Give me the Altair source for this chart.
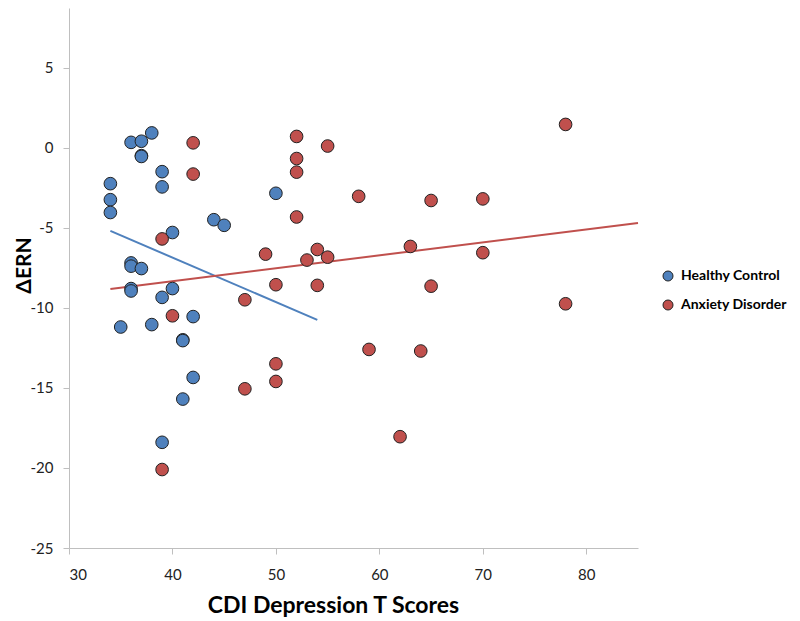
import altair as alt
import pandas as pd

# Healthy Control points
hc_x = [36, 37, 38, 37, 37, 39, 39, 34, 34, 34, 44, 45, 40, 36, 36, 37, 36, 36, 40, 39,
        42, 35, 38, 41, 41, 42, 41, 39, 50]
hc_y = [0.33, 0.4, 0.92, -0.5, -0.55, -1.5, -2.45, -2.25, -3.25, -4.05, -4.5, -4.85, -5.3,
        -7.2, -7.4, -7.55, -8.8, -8.95, -8.8, -9.35, -10.55, -11.2, -11.05, -12.0, -12.05,
        -14.35, -15.7, -18.4, -2.85]

# Anxiety Disorder points
ad_x = [42, 42, 39, 40, 39, 52, 55, 52, 52, 58, 52, 54, 49, 53, 55, 50, 54, 47, 63, 70,
        65, 70, 65, 78, 78, 47, 50, 50, 59, 64, 62]
ad_y = [0.3, -1.65, -5.7, -10.5, -20.1, 0.7, 0.1, -0.68, -1.53, -3.04, -4.33, -6.36, -6.65,
        -7.02, -6.84, -8.56, -8.6, -9.5, -6.17, -6.56, -3.3, -3.2, -8.65, 1.45, -9.75,
        -15.06, -13.5, -14.6, -12.6, -12.7, -18.05]

# Trend line endpoints
hc_trend_x = [34, 54]
hc_trend_y = [-5.2, -10.75]
ad_trend_x = [34, 85]
ad_trend_y = [-8.82, -4.71]

groups = ["Healthy Control", "Anxiety Disorder"]
colors = ["#4F81BD", "#C0504D"]

pts = pd.concat([
    pd.DataFrame({"x": hc_x, "y": hc_y, "group": groups[0], "order": 0}),
    pd.DataFrame({"x": ad_x, "y": ad_y, "group": groups[1], "order": 1}),
], ignore_index=True)

trend = pd.concat([
    pd.DataFrame({"x": hc_trend_x, "y": hc_trend_y, "group": groups[0]}),
    pd.DataFrame({"x": ad_trend_x, "y": ad_trend_y, "group": groups[1]}),
], ignore_index=True)

FONT = "Lato"

xscale = alt.Scale(domain=[30, 85], nice=False, zero=False)
yscale = alt.Scale(domain=[-25, 8.72], nice=False, zero=False)

xaxis = alt.Axis(
    title="CDI Depression T Scores", values=[30, 40, 50, 60, 70, 80], grid=False,
    domainColor="#bfbfbf", tickColor="#bfbfbf", tickSize=6, labelFontSize=15,
    labelColor="#222", labelFont=FONT, labelPadding=13, labelExpr="datum.value + ''",
    titleFont=FONT, titleFontSize=23, titleFontWeight="bold", titleColor="#000",
    titleX=264, titleY=64, titleAnchor="middle", titleBaseline="alphabetic",
)
yaxis = alt.Axis(
    title="ΔERN", values=[-25, -20, -15, -10, -5, 0, 5], grid=False,
    domainColor="#bfbfbf", tickColor="#bfbfbf", tickSize=6, labelFontSize=15,
    labelColor="#222", labelFont=FONT, labelPadding=10, labelExpr="datum.value + ''",
    titleFont=FONT, titleFontSize=21, titleFontWeight="bold", titleColor="#000",
    titleX=-39, titleY=257, titleAngle=270, titleBaseline="alphabetic", titleAnchor="middle",
)

def trend_layer(name, col):
    return alt.Chart(trend).transform_filter(
        alt.datum.group == name
    ).mark_line(strokeWidth=2, color=col).encode(
        x=alt.X("x:Q", scale=xscale, axis=xaxis),
        y=alt.Y("y:Q", scale=yscale, axis=yaxis),
    )

points = alt.Chart(pts).mark_point(
    filled=True, shape="circle", size=160, stroke="#222", strokeWidth=1, opacity=1
).encode(
    x=alt.X("x:Q", scale=xscale),
    y=alt.Y("y:Q", scale=yscale),
    color=alt.Color(
        "group:N",
        scale=alt.Scale(domain=groups, range=colors),
        legend=alt.Legend(
            title=None, orient="none", legendX=592, legendY=261,
            labelFont=FONT, labelFontSize=14, labelFontWeight="bold", labelColor="#000",
            labelLimit=300,
            symbolType="circle", symbolSize=100, symbolStrokeColor="#222",
            symbolStrokeWidth=1, rowPadding=15, labelOffset=6,
        ),
    ),
    order=alt.Order("order:Q"),
)

chart = alt.layer(
    trend_layer(groups[0], colors[0]), trend_layer(groups[1], colors[1]), points
).properties(
    width=569, height=540,
    autosize=alt.AutoSizeParams(type="none"),
    padding={"left": 61, "top": 0, "right": 154, "bottom": 73},
).configure(background="white").configure_view(strokeWidth=0)

chart.save("out.html", embed_options={"renderer": "svg", "actions": False})
